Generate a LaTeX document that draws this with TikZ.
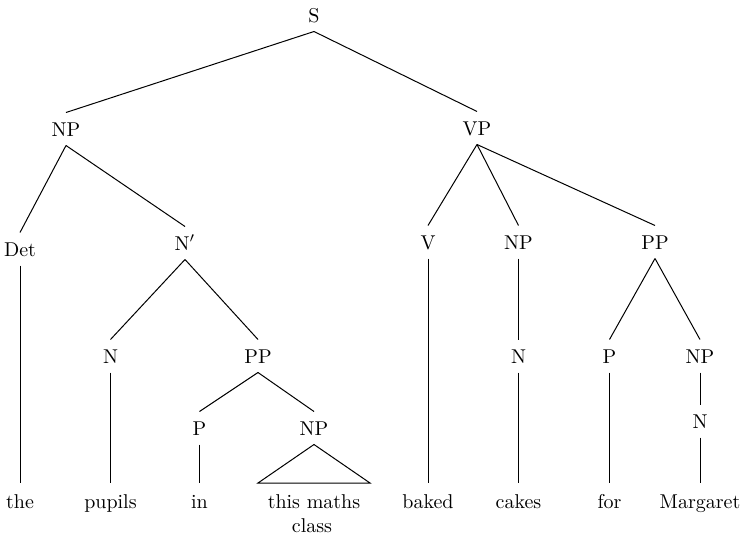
\documentclass[tikz,border=0pt]{standalone}
\begin{document}
\begin{tikzpicture}[x=0.5pt,y=-0.5pt,line width=0.5pt,
  cat/.style={anchor=base,inner xsep=1pt,inner ysep=4.5pt,text height=7pt,text depth=0pt},
  word/.style={anchor=base,inner xsep=1pt,inner ysep=5.5pt,text height=7pt,text depth=0pt},
  branch/.style={draw,line width=0.5pt}]
\useasboundingbox (0,0) rectangle (745,541);
% categories
\node[cat] (S)   at (314,22)  {S};
\node[cat] (NPa) at (66,136)  {NP};
\node[cat] (VP)  at (477,135) {VP};
\node[cat] (Det) at (20,256)  {Det};
\node[cat] (Nb)  at (185,250) {N$'$};
\node[cat] (V)   at (428,249) {V};
\node[cat] (NPc) at (518.5,249) {NP};
\node[cat] (PPd) at (655,249) {PP};
\node[cat] (Ne)  at (110.5,363) {N};
\node[cat] (PPf) at (258,363) {PP};
\node[cat] (Ng)  at (518.5,363) {N};
\node[cat] (Ph)  at (609.5,363) {P};
\node[cat] (NPi) at (700,363) {NP};
\node[cat] (Pj)  at (199.5,435) {P};
\node[cat] (NPk) at (314,435) {NP};
\node[cat] (Nl)  at (700,428) {N};
% words
\node[word] (w1) at (20,508)  {the};
\node[word] (w2) at (110.5,508) {pupils};
\node[word] (w3) at (199.5,508) {in};
\node[word] (w4) at (314,508) {this maths};
\node[word] (w5) at (312,532) {class};
\node[word] (w6) at (428,508) {baked};
\node[word] (w7) at (518.5,508) {cakes};
\node[word] (w8) at (609.5,508) {for};
\node[word] (w9) at (700,508) {Margaret};
\coordinate (tl) at (258,483);
\coordinate (tr) at (370,483);
% branches
\path[branch] (S.south) -- (NPa.north);
\path[branch] (S.south) -- (VP.north);
\path[branch] (NPa.south) -- (Det.north);
\path[branch] (NPa.south) -- (Nb.north);
\path[branch] (Det.south) -- (w1.north);
\path[branch] (Nb.south) -- (Ne.north);
\path[branch] (Nb.south) -- (PPf.north);
\path[branch] (Ne.south) -- (w2.north);
\path[branch] (PPf.south) -- (Pj.north);
\path[branch] (PPf.south) -- (NPk.north);
\path[branch] (Pj.south) -- (w3.north);
\path[branch] (NPk.south) -- (tl) -- (tr) -- cycle;
\path[branch] (VP.south) -- (V.north);
\path[branch] (VP.south) -- (NPc.north);
\path[branch] (VP.south) -- (PPd.north);
\path[branch] (V.south) -- (w6.north);
\path[branch] (NPc.south) -- (Ng.north);
\path[branch] (Ng.south) -- (w7.north);
\path[branch] (PPd.south) -- (Ph.north);
\path[branch] (PPd.south) -- (NPi.north);
\path[branch] (Ph.south) -- (w8.north);
\path[branch] (NPi.south) -- (Nl.north);
\path[branch] (Nl.south) -- (w9.north);
\end{tikzpicture}
\end{document}
